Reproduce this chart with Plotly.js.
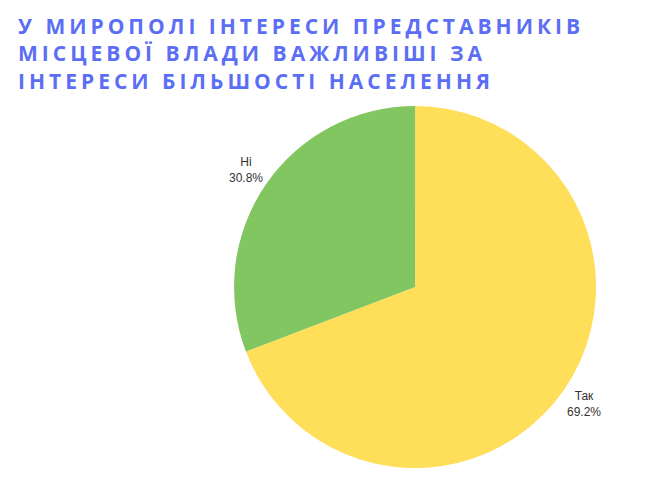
<!DOCTYPE html>
<html>
<head>
<meta charset="utf-8">
<script src="https://cdn.plot.ly/plotly-3.0.1.min.js"></script>
<style>
  body { margin: 0; }
  .title-note .annotation-text { letter-spacing: 4px; }
</style>
</head>
<body>
<div id="chart" style="width:663px;height:497px;"></div>
<script>
var labels = ["Так", "Ні"];
var values = [69.2, 30.8];
var colors = ["#FFDE59", "#82C662"];
var titleLines = [
  "У МИРОПОЛІ ІНТЕРЕСИ ПРЕДСТАВНИКІВ",
  "МІСЦЕВОЇ ВЛАДИ ВАЖЛИВІШІ ЗА",
  "ІНТЕРЕСИ БІЛЬШОСТІ НАСЕЛЕННЯ"
];

var W = 663, H = 497;
var dom = { x: [0.353, 0.899], y: [0.058, 0.787] };

var data = [{
  type: "pie",
  labels: labels,
  values: values,
  sort: false,
  direction: "clockwise",
  rotation: 0,
  marker: { colors: colors },
  textinfo: "none",
  automargin: false,
  showlegend: false,
  domain: dom,
  hoverinfo: "none"
}];

// labels outside the slices, at the middle angle of each slice
var cx = (dom.x[0] + dom.x[1]) / 2, cy = (dom.y[0] + dom.y[1]) / 2;
var rPx = Math.min((dom.x[1] - dom.x[0]) * W, (dom.y[1] - dom.y[0]) * H) / 2;
var total = values.reduce(function(a, b) { return a + b; }, 0);
var annots = [];
var cum = 0;
for (var i = 0; i < values.length; i++) {
  var mid = (cum + values[i] / 2) / total * 2 * Math.PI;
  cum += values[i];
  var d = rPx * 1.135;
  annots.push({
    text: labels[i] + "<br>" + (values[i] / total * 100).toFixed(1) + "%",
    showarrow: false,
    xref: "paper", yref: "paper",
    x: cx + d * Math.sin(mid) / W,
    y: cy + d * Math.cos(mid) / H,
    xanchor: "center", yanchor: "middle", align: "center",
    font: { family: "Liberation Sans, Arial, sans-serif", size: 12, color: "#333333" }
  });
}

annots.push({
  text: titleLines.join("<br>"),
  showarrow: false,
  xref: "paper", yref: "paper",
  x: 0.024, xanchor: "left",
  y: 0.979, yanchor: "top",
  align: "left",
  name: "title",
  font: { family: "Open Sans, sans-serif", size: 21, color: "#5B6EF5", weight: "bold" }
});

var layout = {
  width: W,
  height: H,
  margin: { l: 0, r: 0, t: 0, b: 0 },
  paper_bgcolor: "#ffffff",
  annotations: annots
};

Plotly.newPlot("chart", data, layout, { displayModeBar: false }).then(function() {
  var notes = document.querySelectorAll(".annotation");
  notes[notes.length - 1].classList.add("title-note");
});
</script>
</body>
</html>
